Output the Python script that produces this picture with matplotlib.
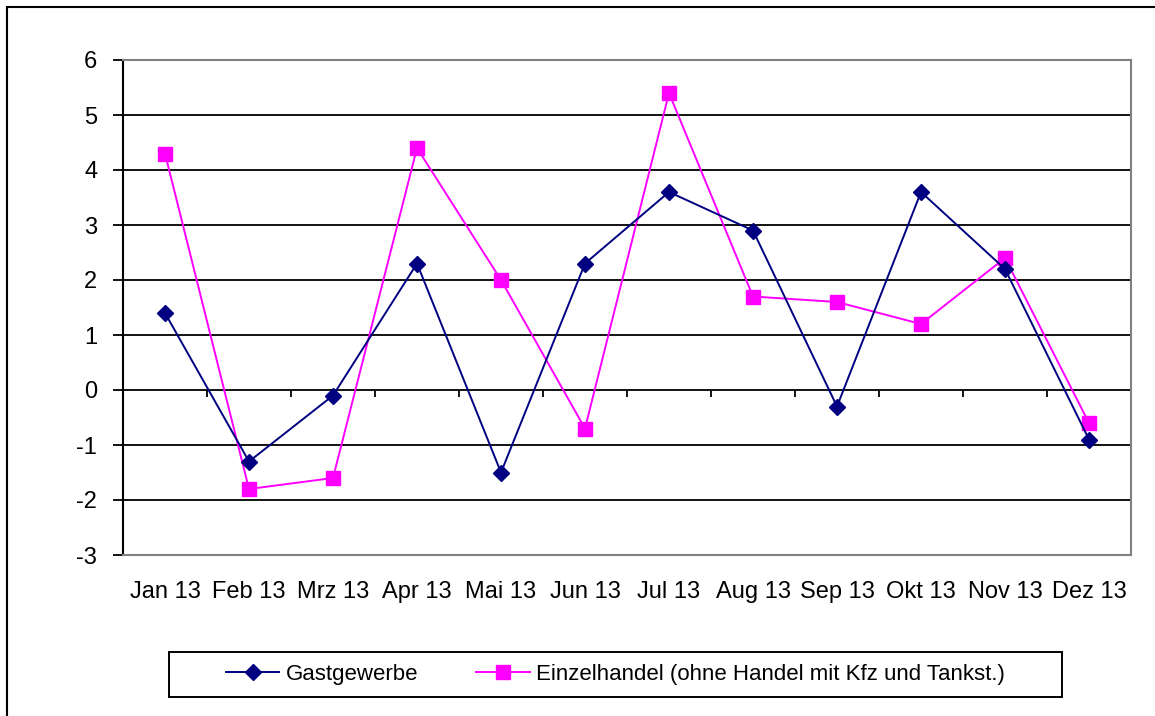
import matplotlib
matplotlib.use("Agg")
import matplotlib.pyplot as plt
import numpy as np
from matplotlib.patches import Rectangle

months = ["Jan 13", "Feb 13", "Mrz 13", "Apr 13", "Mai 13", "Jun 13",
          "Jul 13", "Aug 13", "Sep 13", "Okt 13", "Nov 13", "Dez 13"]
gastgewerbe = [1.4, -1.3, -0.1, 2.3, -1.5, 2.3, 3.6, 2.9, -0.3, 3.6, 2.2, -0.9]
einzelhandel = [4.3, -1.8, -1.6, 4.4, 2.0, -0.7, 5.4, 1.7, 1.6, 1.2, 2.4, -0.6]
label_g = "Gastgewerbe"
label_e = "Einzelhandel (ohne Handel mit Kfz und Tankst.)"
yticks = list(range(-3, 7))

plt.rcParams['font.family'] = ['Liberation Sans', 'DejaVu Sans']

W, H = 1155, 716
fig = plt.figure(figsize=(W / 100, H / 100), dpi=100)

# outer border of chart area
fig.patches.append(Rectangle((7 / W, -0.1), 1.2, 1 - 6.5 / H + 0.1,
                             transform=fig.transFigure, fill=False,
                             edgecolor='black', linewidth=1.5))

ax = fig.add_axes([123 / W, 1 - 555 / H, (1131 - 123) / W, (555 - 60) / H])
x = np.arange(len(months))

ax.plot(x, gastgewerbe, color='#000080', marker='D', markersize=8.5,
        linewidth=1.4, label=label_g, zorder=4)
ax.plot(x, einzelhandel, color='#FF00FF', marker='s', markersize=10,
        linewidth=1.4, label=label_e, zorder=3)

ax.set_xlim(-0.5, len(months) - 0.5)
ax.set_ylim(-3, 6)
ax.set_yticks(yticks)
ax.set_yticklabels([str(v) for v in yticks])
ax.yaxis.grid(True, color='black', linewidth=1.3)
ax.set_axisbelow(True)

ax.set_xticks(x)
ax.set_xticklabels(months)
ax.tick_params(axis='x', length=0, pad=19, labelsize=17)
ax.tick_params(axis='y', length=7.5, width=1.3, pad=11, labelsize=17,
               direction='out')

for s in ['top', 'right', 'bottom']:
    ax.spines[s].set_color('#808080')
    ax.spines[s].set_linewidth(1.5)
ax.spines['left'].set_color('black')
ax.spines['left'].set_linewidth(1.5)

# category axis crossing at y=0 with boundary ticks
sec = ax.secondary_xaxis(3 / 9)
sec.set_xticks(np.arange(-0.5, len(months), 1.0))
sec.set_xticklabels([])
sec.tick_params(axis='x', direction='out', length=5, width=1.3, color='black')
sec.spines['bottom'].set_visible(False)
sec.spines['top'].set_visible(False)

leg = fig.legend(loc='center', bbox_to_anchor=(615.5 / W, 1 - 674.5 / H),
                 ncol=2, fontsize=16, frameon=False,
                 handlelength=2.4, handletextpad=0.3,
                 columnspacing=2.6, borderpad=0.55)

# legend box (wider than the entries, as in the source)
fig.patches.append(Rectangle((169 / W, 1 - 697 / H), (1062 - 169) / W, 45 / H,
                             transform=fig.transFigure, fill=False,
                             edgecolor='black', linewidth=1.4))

fig.savefig("out.png", dpi=100)
